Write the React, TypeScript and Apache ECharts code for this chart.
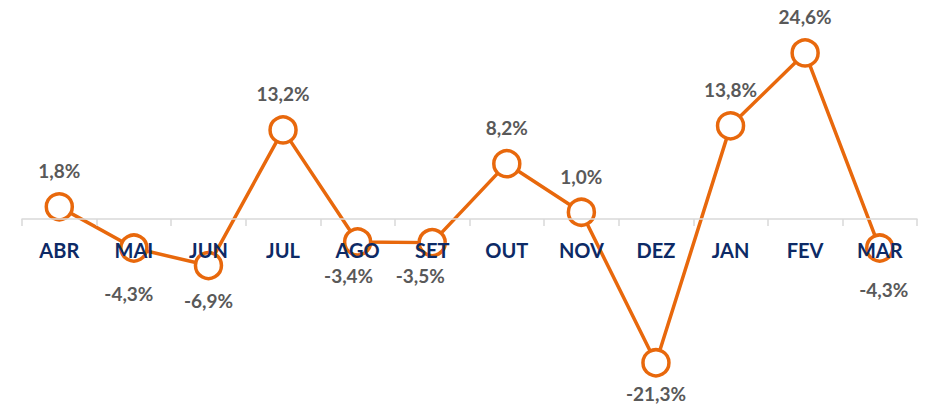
import React, { useEffect, useRef } from "react";
import * as echarts from "echarts";

const categories = ["ABR", "MAI", "JUN", "JUL", "AGO", "SET", "OUT", "NOV", "DEZ", "JAN", "FEV", "MAR"];
const values = [1.8, -4.3, -6.9, 13.2, -3.4, -3.5, 8.2, 1.0, -21.3, 13.8, 24.6, -4.3];
// label nudges [dx, dy] per point (pixels)
const labelNudges: [number, number][] = [
  [0, 0], [-5, 13], [0, 3], [0, 0], [-9, 1], [-12, 1], [0, 0], [0, 0], [0, -2], [0, 0], [0, 0], [4, 9],
];

const ORANGE = "#E8680C";
const NAVY = "#0D2A66";
const GRAY = "#595959";

const fmt = (v: number) => v.toFixed(1).replace(".", ",") + "%";

export default function App() {
  const ref = useRef<HTMLDivElement>(null);
  useEffect(() => {
    if (!ref.current) return;
    const chart = echarts.init(ref.current, undefined, { renderer: "svg" });
    const data = values.map((v, i) => ({
      value: v,
      label: {
        position: v >= 0 ? "top" : "bottom",
        distance: v >= 0 ? 12 : 8,
        offset: labelNudges[i],
      },
    }));
    chart.setOption({
      animation: false,
      grid: { left: 22, right: 8, top: 30, bottom: 185 },
      xAxis: {
        type: "category",
        data: categories,
        position: "bottom",
        z: 5,
        axisLine: { onZero: false, lineStyle: { color: "#D9D9D9", width: 1.5 } },
        axisTick: { show: true, length: 7, lineStyle: { color: "#D9D9D9", width: 1.5 } },
        axisLabel: {
          color: NAVY,
          fontFamily: "Lato",
          fontWeight: "bold",
          fontSize: 20,
          margin: 21,
        },
      },
      yAxis: {
        type: "value",
        min: 0,
        max: 28,
        show: false,
        splitLine: { show: false },
      },
      series: [
        {
          type: "line",
          data,
          clip: false,
          symbol: "circle",
          symbolSize: 26,
          lineStyle: { color: ORANGE, width: 3.5 },
          itemStyle: { color: "#FFFFFF", borderColor: ORANGE, borderWidth: 3.5 },
          label: {
            show: true,
            color: GRAY,
            fontFamily: "Lato",
            fontWeight: "bold",
            fontSize: 19,
            formatter: (p: any) => fmt(p.value),
          },
          z: 2,
        },
      ],
    });
    return () => chart.dispose();
  }, []);
  return (
    <div
      ref={ref}
      style={{ position: "absolute", left: 0, top: 0, width: 925, height: 404 }}
    />
  );
}
